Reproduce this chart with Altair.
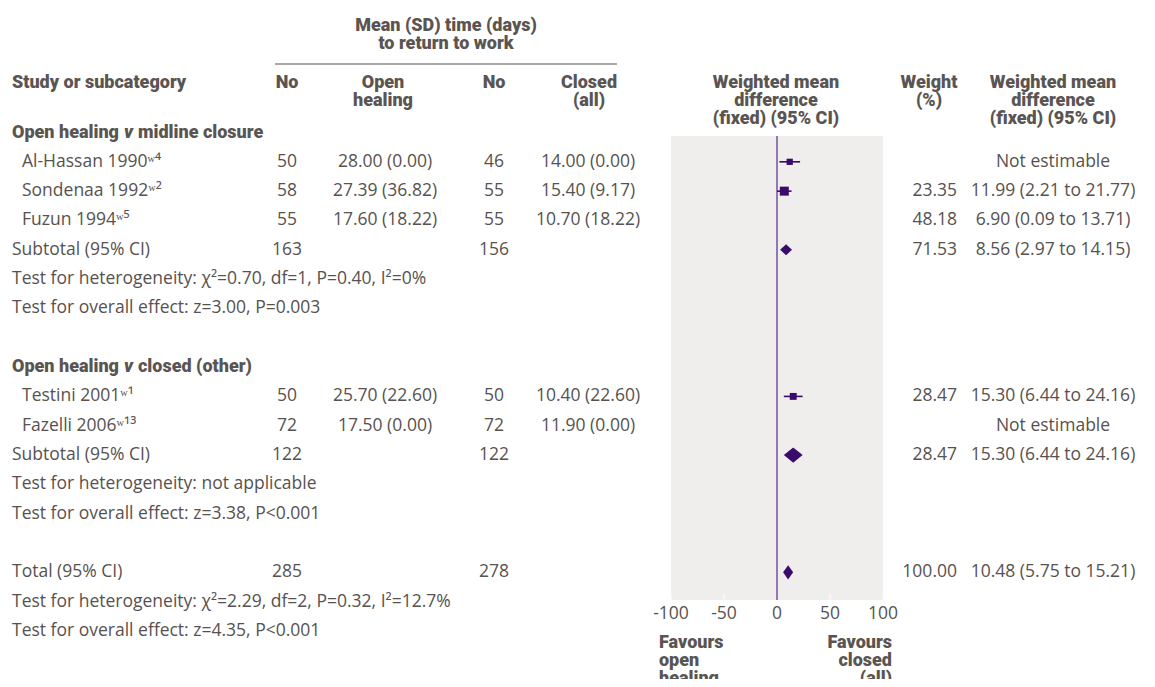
import altair as alt
import pandas as pd

# ---------------- data ----------------
group_rows = [0, 8]
group_left = ["Open healing", "Open healing"]
group_mid = ["v", "v"]
group_right = ["midline closure", "closed (other)"]

study_rows = [1, 2, 3, 9, 10]
study_names = ["Al-Hassan 1990ʷ⁴", "Sondenaa 1992ʷ²", "Fuzun 1994ʷ⁵", "Testini 2001ʷ¹", "Fazelli 2006ʷ¹³"]
open_n = ["50", "58", "55", "50", "72"]
open_mean = ["28.00 (0.00)", "27.39 (36.82)", "17.60 (18.22)", "25.70 (22.60)", "17.50 (0.00)"]
closed_n = ["46", "55", "55", "50", "72"]
closed_mean = ["14.00 (0.00)", "15.40 (9.17)", "10.70 (18.22)", "10.40 (22.60)", "11.90 (0.00)"]
study_weight = ["", "23.35", "48.18", "28.47", ""]
study_wmd = ["Not estimable", "11.99 (2.21 to 21.77)", "6.90 (0.09 to 13.71)",
             "15.30 (6.44 to 24.16)", "Not estimable"]

summary_rows = [4, 11, 15]
summary_labels = ["Subtotal (95% CI)", "Subtotal (95% CI)", "Total (95% CI)"]
summary_open_n = ["163", "122", "285"]
summary_closed_n = ["156", "122", "278"]
summary_weight = ["71.53", "28.47", "100.00"]
summary_wmd = ["8.56 (2.97 to 14.15)", "15.30 (6.44 to 24.16)", "10.48 (5.75 to 15.21)"]

test_rows = [5, 6, 12, 13, 16, 17]
test_texts = [
    "Test for heterogeneity: χ²=0.70, df=1, P=0.40, I²=0%",
    "Test for overall effect: z=3.00, P=0.003",
    "Test for heterogeneity: not applicable",
    "Test for overall effect: z=3.38, P<0.001",
    "Test for heterogeneity: χ²=2.29, df=2, P=0.32, I²=12.7%",
    "Test for overall effect: z=4.35, P<0.001",
]

# forest markers as drawn in the figure
square_rows = [1, 2, 9]
square_est = [11.99, 6.90, 15.30]
square_lo = [2.21, 0.09, 6.44]
square_hi = [21.77, 13.71, 24.16]
square_wt = [23.35, 48.18, 28.47]

diamond_rows = [4, 11, 15]
diamond_est = [8.56, 15.30, 10.48]
diamond_lo = [2.97, 6.44, 5.75]
diamond_hi = [14.15, 24.16, 15.21]

tick_values = [-100, -50, 0, 50, 100]
tick_labels = ["-100", "-50", "0", "50", "100"]

# ---------------- style ----------------
TXT = "#57524f"
HEAD = "#5a5552"
BODY_FONT = "Open Sans"
HEAD_FONT = "Roboto"
FS = 17.5
HFS = 18
HW = 900
MARK = "#3a0b6a"
ZERO = "#7a5aa3"
BG = "#f0eeec"
DIAMOND_HALF = [0.19, 0.26, 0.24]

yscale = alt.Scale(domain=[0, 17], range=[124.5, 623])
xscale = alt.Scale(domain=[-100, 100], range=[663, 875])
Y = alt.Y("row:Q", scale=yscale, axis=None)

one = alt.Data(values=[{"a": 1}])


def header(lines, x, y, align="center", lh=18):
    return alt.Chart(one).mark_text(
        text=lines, font=HEAD_FONT, fontWeight=HW, fontSize=HFS, color=HEAD,
        align=align, baseline="middle", lineHeight=lh,
    ).encode(x=alt.value(x), y=alt.value(y))


def col(df, field, x, align="center", bold=False, italic=False):
    kw = {}
    if italic:
        kw["fontStyle"] = "italic"
    return alt.Chart(df).mark_text(
        font=HEAD_FONT if bold else BODY_FONT,
        fontWeight=HW if bold else "normal",
        fontSize=HFS if bold else FS, color=HEAD if bold else TXT, align=align, baseline="middle",
        **kw,
    ).encode(x=alt.value(x), y=Y, text=f"{field}:N")


studies = pd.DataFrame({"row": study_rows, "name": study_names, "on": open_n, "om": open_mean,
                        "cn": closed_n, "cm": closed_mean, "w": study_weight, "wmd": study_wmd})
summ = pd.DataFrame({"row": summary_rows, "name": summary_labels, "on": summary_open_n,
                     "cn": summary_closed_n, "w": summary_weight, "wmd": summary_wmd})
tests = pd.DataFrame({"row": test_rows, "name": test_texts})
groups = pd.DataFrame({"row": group_rows, "a": group_left, "b": group_mid, "c": group_right})

layers = []

# headers
layers.append(header(["Mean (SD) time (days)", "to return to work"], 438, 18, lh=18))
layers.append(alt.Chart(one).mark_rule(color="#555", strokeWidth=1).encode(
    x=alt.value(267), x2=alt.value(609), y=alt.value(56)))
layers.append(header(["Study or subcategory"], 4, 75, align="left"))
layers.append(header(["No"], 279, 75))
layers.append(header(["Open", "healing"], 375, 75))
layers.append(header(["No"], 486, 75))
layers.append(header(["Closed", "(all)"], 581, 75))
layers.append(header(["Weighted mean", "difference", "(fixed) (95% CI)"], 768, 75))
layers.append(header(["Weight", "(%)"], 921, 75))
layers.append(header(["Weighted mean", "difference", "(fixed) (95% CI)"], 1045, 75))

# forest background
bgdf = pd.DataFrame({"a": [tick_values[0]], "b": [tick_values[-1]]})
layers.append(alt.Chart(bgdf).mark_rect(color=BG).encode(
    x=alt.X("a:Q", scale=xscale, axis=None), x2="b:Q", y=alt.value(128), y2=alt.value(592)))
ticks = pd.DataFrame({"v": tick_values, "lbl": tick_labels})
layers.append(alt.Chart(ticks).mark_rule(color="white", strokeWidth=1).encode(
    x=alt.X("v:Q", scale=xscale, axis=None), y=alt.value(586), y2=alt.value(592)))
zero = pd.DataFrame({"v": [0]})
layers.append(alt.Chart(zero).mark_rule(color=ZERO, strokeWidth=1.6).encode(
    x=alt.X("v:Q", scale=xscale, axis=None), y=alt.value(128), y2=alt.value(592)))
layers.append(alt.Chart(ticks).mark_text(font=BODY_FONT, fontSize=FS, color=TXT, baseline="middle").encode(
    x=alt.X("v:Q", scale=xscale, axis=None), y=alt.value(606), text="lbl:N"))
layers.append(header(["Favours", "open", "healing"], 651, 635, align="left", lh=18))
layers.append(header(["Favours", "closed", "(all)"], 884, 635, align="right", lh=18))

# squares + CI
sq = pd.DataFrame({"row": square_rows, "est": square_est, "lo": square_lo, "hi": square_hi, "wt": square_wt})
layers.append(alt.Chart(sq).mark_rule(color=MARK, strokeWidth=1.6).encode(
    x=alt.X("lo:Q", scale=xscale, axis=None), x2="hi:Q", y=Y))
layers.append(alt.Chart(sq).mark_square(color=MARK, opacity=1).encode(
    x=alt.X("est:Q", scale=xscale, axis=None), y=Y,
    size=alt.Size("wt:Q", scale=alt.Scale(domain=[0, 50], range=[0, 84]), legend=None)))

# diamonds
drecs = []
for i, (r, e, lo, hi) in enumerate(zip(diamond_rows, diamond_est, diamond_lo, diamond_hi)):
    h = DIAMOND_HALF[i]
    drecs += [{"id": i, "x": lo, "y1": r, "y2": r},
              {"id": i, "x": e, "y1": r - h, "y2": r + h},
              {"id": i, "x": hi, "y1": r, "y2": r}]
dd = pd.DataFrame(drecs)
layers.append(alt.Chart(dd).mark_area(color=MARK, orient="vertical", opacity=1).encode(
    x=alt.X("x:Q", scale=xscale, axis=None),
    y=alt.Y("y1:Q", scale=yscale, axis=None), y2="y2:Q", detail="id:N"))

# table body
layers.append(col(groups, "a", 4, align="left", bold=True))
layers.append(col(groups, "b", 116, align="left", bold=True, italic=True))
layers.append(col(groups, "c", 130, align="left", bold=True))
layers.append(col(studies, "name", 14, align="left"))
layers.append(col(studies, "on", 279))
layers.append(col(studies, "om", 377))
layers.append(col(studies, "cn", 486))
layers.append(col(studies, "cm", 580))
layers.append(col(studies, "w", 949, align="right"))
layers.append(col(studies, "wmd", 1045))
layers.append(col(summ, "name", 4, align="left"))
layers.append(col(summ, "on", 279))
layers.append(col(summ, "cn", 486))
layers.append(col(summ, "w", 949, align="right"))
layers.append(col(summ, "wmd", 1045))
layers.append(col(tests, "name", 4, align="left"))

chart = alt.layer(*layers).properties(
    width=1139, height=671, padding=0, background="white",
    autosize=alt.AutoSizeParams(type="none")
).configure_view(strokeWidth=0, stroke=None)

chart.save("out.html", embed_options={"renderer": "svg", "actions": False})
